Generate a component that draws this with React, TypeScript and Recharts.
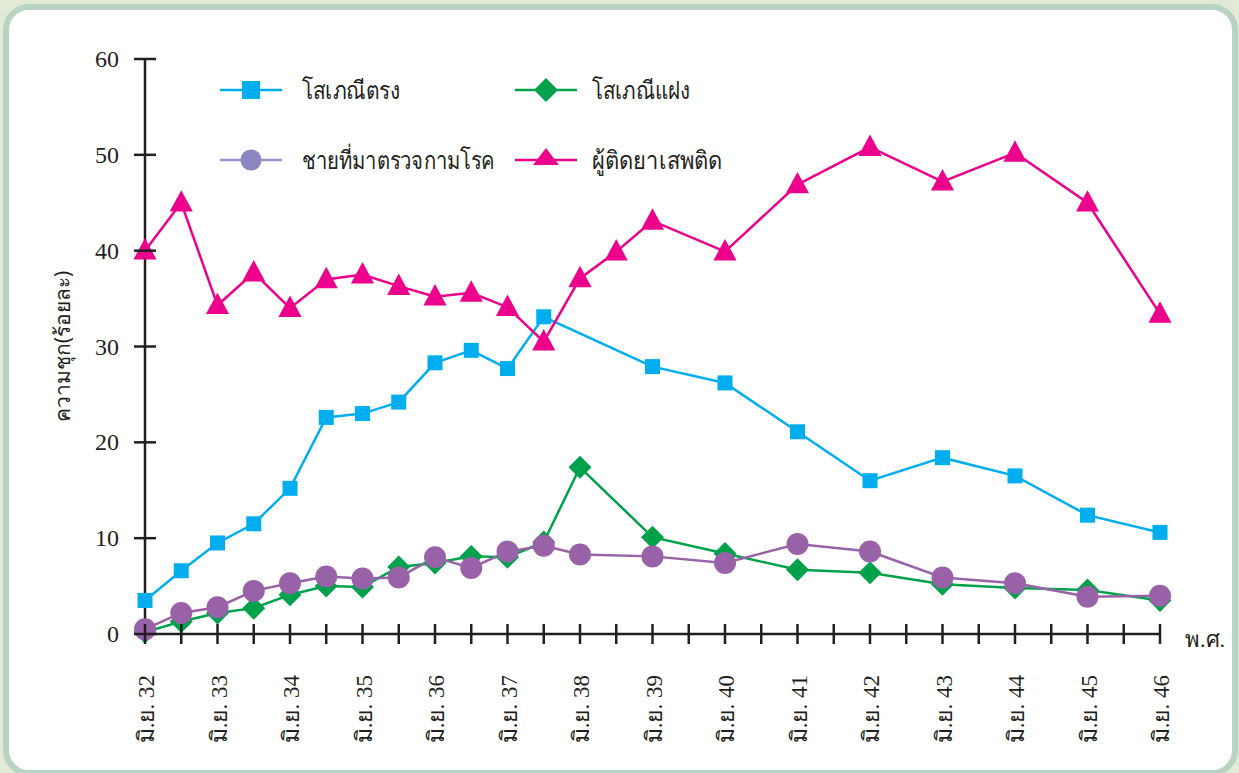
import React from 'react';
import { LineChart, Line, XAxis, YAxis, Legend } from 'recharts';

// survey rounds (Buddhist-era years, June rounds; half-year rounds up to 38.5)
const years = [32, 32.5, 33, 33.5, 34, 34.5, 35, 35.5, 36, 36.5, 37, 37.5, 38, 38.5, 39, 40, 41, 42, 43, 44, 45, 46];

const directSW = [3.5, 6.6, 9.5, 11.5, 15.2, 22.6, 23.0, 24.2, 28.3, 29.6, 27.7, 33.1, null, null, 27.9, 26.2, 21.1, 16.0, 18.4, 16.5, 12.4, 10.6];
const indirectSW = [0.2, 1.3, 2.2, 2.7, 4.1, 5.0, 4.9, 7.0, 7.4, 8.1, 8.0, 9.6, 17.4, null, 10.1, 8.4, 6.7, 6.4, 5.2, 4.8, 4.6, 3.5];
const stdMen = [0.5, 2.2, 2.8, 4.5, 5.3, 6.0, 5.8, 5.9, 8.0, 6.9, 8.6, 9.2, 8.3, null, 8.1, 7.4, 9.4, 8.6, 5.9, 5.3, 3.9, 4.0];
const drugUsers = [40.0, 45.0, 34.3, 37.7, 34.0, 37.0, 37.5, 36.3, 35.2, 35.6, 34.1, 30.5, 37.1, 39.9, 43.1, 39.9, 46.9, 50.8, 47.2, 50.2, 45.0, 33.4];

const xTicks = [32, 32.5, 33, 33.5, 34, 34.5, 35, 35.5, 36, 36.5, 37, 37.5, 38, 38.5, 39, 39.5, 40, 40.5, 41, 41.5, 42, 42.5, 43, 43.5, 44, 44.5, 45, 45.5, 46];
const yTicks = [0, 10, 20, 30, 40, 50, 60];

const names = ['โสเภณีตรง', 'โสเภณีแฝง', 'ชายที่มาตรวจกามโรค', 'ผู้ติดยาเสพติด'];

const BLUE = '#00aeef';
const GREEN = '#00a14b';
const PURPLE = '#9962a8';
const PINK = '#ec008c';
const AXIS = '#231f20';
const SERIF = "'Liberation Serif', 'DejaVu Serif', serif";
const SANS = "'Noto Sans', 'DejaVu Sans', sans-serif";

const data = years.map((x, i) => ({
  x,
  direct: directSW[i],
  indirect: indirectSW[i],
  men: stdMen[i],
  drug: drugUsers[i],
}));

const XTick = ({ x, y, payload }: any) => {
  const v = payload.value;
  return (
    <g>
      <line x1={x} x2={x} y1={y - 10} y2={y + 10} stroke={AXIS} strokeWidth={2.5} />
      {Number.isInteger(v) && (
        <text transform={`translate(${x + 9},${y + 41}) rotate(-90)`} textAnchor="end"
          fontFamily={SERIF} fontSize={23} fill={AXIS}>
          {`มิ.ย. ${v}`}
        </text>
      )}
    </g>
  );
};

const YTick = ({ x, y, payload }: any) => (
  <g>
    <line x1={x - 11} x2={x + 11} y1={y} y2={y} stroke={AXIS} strokeWidth={2.5} />
    <text x={x - 26} y={y + 8} textAnchor="end" fontFamily={SERIF} fontSize={24} fill={AXIS}>
      {payload.value}
    </text>
  </g>
);

const YLabel = ({ viewBox }: any) => {
  const cx = viewBox.x - 15;
  const cy = viewBox.y + viewBox.height / 2;
  return (
    <text transform={`translate(${cx},${cy}) rotate(-90)`} textAnchor="middle"
      fontFamily={SANS} fontSize={21} fill={AXIS}>
      ความชุก(ร้อยละ)
    </text>
  );
};

const XLabel = ({ viewBox }: any) => (
  <text x={viewBox.x + viewBox.width + 25} y={viewBox.y + 13} fontFamily={SERIF} fontSize={22} fill={AXIS}>
    พ.ศ.
  </text>
);

const square = (c: string, s: number) => (p: any) =>
  p.cy == null ? <g key={p.index} /> :
    <rect key={p.index} x={p.cx - s / 2} y={p.cy - s / 2} width={s} height={s} fill={c} />;

const diamond = (c: string, s: number) => (p: any) =>
  p.cy == null ? <g key={p.index} /> :
    <path key={p.index} d={`M${p.cx},${p.cy - s}L${p.cx + s},${p.cy}L${p.cx},${p.cy + s}L${p.cx - s},${p.cy}Z`} fill={c} />;

const circle = (c: string, r: number) => (p: any) =>
  p.cy == null ? <g key={p.index} /> : <circle key={p.index} cx={p.cx} cy={p.cy} r={r} fill={c} />;

const triangle = (c: string, s: number) => (p: any) =>
  p.cy == null ? <g key={p.index} /> :
    <path key={p.index} d={`M${p.cx},${p.cy - s * 0.6}L${p.cx + s * 0.55},${p.cy + s * 0.42}L${p.cx - s * 0.55},${p.cy + s * 0.42}Z`} fill={c} />;

// legend text is condensed in the original, so squeeze each label to its width
const legendWidths = [98, 98, 193, 130];

const LegendBox = () => {
  const items = [
    { x: 0, y: 30, line: BLUE, mark: <rect x={27} y={21} width={18} height={18} fill={BLUE} /> },
    { x: 295, y: 30, line: GREEN, mark: <path d="M331,18L343,30L331,42L319,30Z" fill={GREEN} /> },
    { x: 0, y: 100, line: '#9b91cb', mark: <circle cx={36} cy={100} r={10.5} fill="#8b85c0" /> },
    { x: 295, y: 100, line: PINK, mark: <path d="M331,88L344,105L318,105Z" fill={PINK} /> },
  ];
  return (
    <svg width={600} height={130}>
      {items.map((it, i) => (
        <g key={i}>
          <line x1={it.x + 5} x2={it.x + 67} y1={it.y} y2={it.y} stroke={it.line} strokeWidth={2.5} />
          {it.mark}
          <text x={it.x + (i % 2 ? 82 : 87)} y={it.y + 9} fontFamily={SANS} fontSize={25} fill={AXIS}
            textLength={legendWidths[i]} lengthAdjust="spacingAndGlyphs">{names[i]}</text>
        </g>
      ))}
    </svg>
  );
};

export default function App() {
  return (
    <div style={{ position: 'absolute', left: 0, top: 0, width: 1239, height: 773, overflow: 'hidden', background: '#e2e9d6' }}>
      <div style={{
        position: 'absolute', left: 3, top: 4, width: 1235, height: 772, boxSizing: 'border-box',
        border: '6px solid #b8d3c2', borderRadius: 26, background: '#fff',
      }} />
      <div style={{ position: 'absolute', left: 0, top: 0 }}>
        <LineChart width={1239} height={773} data={data} margin={{ top: 59, right: 79, left: 85, bottom: 19 }}>
          <XAxis dataKey="x" type="number" domain={[32, 46]} ticks={xTicks} interval={0}
            tick={<XTick />} tickLine={false} tickSize={0} tickMargin={0} height={120}
            axisLine={{ stroke: AXIS, strokeWidth: 2.5 }} label={<XLabel />} />
          <YAxis type="number" domain={[0, 60]} ticks={yTicks} interval={0} width={60}
            tick={<YTick />} tickLine={false} tickSize={0} tickMargin={0}
            axisLine={{ stroke: AXIS, strokeWidth: 2.5 }} label={<YLabel />} />
          <Legend layout="horizontal" verticalAlign="middle" align="center"
            wrapperStyle={{ top: 60, left: 215, width: 600, height: 130 }} content={<LegendBox />} />
          <Line dataKey="direct" name={names[0]} stroke={BLUE} strokeWidth={2.5} connectNulls
            dot={square(BLUE, 15)} activeDot={false} isAnimationActive={false} />
          <Line dataKey="drug" name={names[3]} stroke={PINK} strokeWidth={2.5} connectNulls
            dot={triangle(PINK, 21)} activeDot={false} isAnimationActive={false} />
          <Line dataKey="indirect" name={names[1]} stroke={GREEN} strokeWidth={2.5} connectNulls
            dot={diamond(GREEN, 11.5)} activeDot={false} isAnimationActive={false} />
          <Line dataKey="men" name={names[2]} stroke={PURPLE} strokeWidth={2.5} connectNulls
            dot={circle(PURPLE, 11)} activeDot={false} isAnimationActive={false} />
        </LineChart>
      </div>
    </div>
  );
}
